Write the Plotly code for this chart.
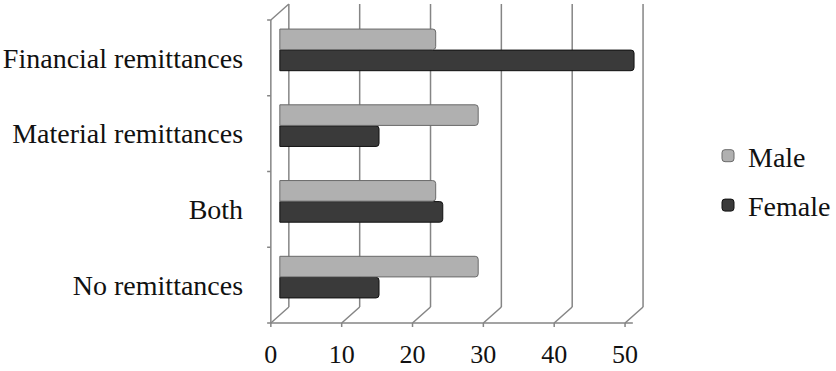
import plotly.graph_objects as go

categories = ["No remittances", "Both", "Material remittances", "Financial remittances"]
male = [28, 22, 28, 22]
female = [14, 23, 14, 50]
x_ticks = [0, 10, 20, 30, 40, 50]

W, H = 836, 371
FONT = "Liberation Serif, Times New Roman, serif"
GRID = "#858585"
FS = 28

# pixel geometry of the 3D frame (front face of the box)
fx0, fx1 = 277, 639       # front x axis extent (pixels)
fy_top, fy_bot = 20, 323  # front y axis extent (pixels from top)
DX, DY = 18, 16           # depth offset of the back wall (right, up)
P = 4                     # padding so frame lines are not clipped
PW = fx1 - fx0
PH = fy_bot - fy_top
n = len(categories)
s = PW / (x_ticks[-1] - x_ticks[0])   # pixels per value unit
u = PH / n                             # pixels per category

# one subplot covering the whole box; bars sit at mid depth
dom_x = [(fx0 - P) / W, (fx1 + DX + P) / W]
dom_y = [(H - fy_bot - P) / H, (H - fy_top + DY + P) / H]
x_range = [x_ticks[0] - (DX / 2 + P) / s, x_ticks[-1] + (DX / 2 + P) / s]
y_range = [-0.5 - (DY / 2 + P) / u, n - 0.5 + (DY / 2 + P) / u]

fig = go.Figure()
fig.add_trace(go.Bar(
    y=categories, x=female, name="Female", orientation="h",
    legendrank=2, legendgroup="female",
    marker=dict(color="#3a3a3a", line=dict(color="#111111", width=1)),
))
fig.add_trace(go.Bar(
    y=categories, x=male, name="Male", orientation="h",
    legendrank=1, legendgroup="male",
    marker=dict(color="#b0b0b0", line=dict(color="#6a6a6a", width=1)),
))

fig.update_layout(
    width=W, height=H,
    margin=dict(l=0, r=0, t=0, b=0),
    paper_bgcolor="white", plot_bgcolor="rgba(0,0,0,0)",
    font=dict(family=FONT, size=FS, color="#111111"),
    barmode="group", bargap=0.445, bargroupgap=0.02,
    barcornerradius=3,
    showlegend=True,
    legend=dict(x=724 / W, y=(H - 131) / H, xanchor="left", yanchor="top",
                traceorder="grouped", tracegroupgap=10, itemwidth=30,
                font=dict(family=FONT, size=FS, color="#111111"),
                bgcolor="rgba(0,0,0,0)"),
    xaxis=dict(domain=dom_x, range=x_range, tickvals=x_ticks,
               tickfont=dict(size=26),
               showgrid=False, zeroline=False, showline=False, ticks="",
               ticklabelshift=-DX // 2, ticklabelstandoff=P + 5, automargin=False),
    yaxis=dict(domain=dom_y, range=y_range, type="category",
               categoryorder="array", categoryarray=categories,
               showgrid=False, zeroline=False, showline=False, ticks="",
               ticklabelshift=DY // 2, ticklabelstandoff=23, automargin=False),
)

ls = dict(color=GRID, width=1.5)
lo, hi = -0.5, n - 0.5
shapes = []

def seg(xa, ya, x0, x1, y0, y1):
    return dict(type="line", xref="x", yref="y",
                xsizemode="pixel", xanchor=xa, x0=x0, x1=x1,
                ysizemode="pixel", yanchor=ya, y0=y0, y1=y1,
                line=ls, layer="below")

fx, fy = -DX / 2, -DY / 2   # front face offset from mid depth
bx, by = DX / 2, DY / 2     # back wall offset from mid depth
for v in x_ticks:
    shapes.append(seg(v, lo, fx, bx, fy, by))              # floor diagonal
    shapes.append(seg(v, lo, bx, bx, by, by + PH))         # back wall gridline
    shapes.append(seg(v, lo, fx, fx, fy, fy - 7))          # front tick mark
shapes.append(seg(x_ticks[0], lo, fx, fx + PW, fy, fy))    # front baseline
shapes.append(seg(x_ticks[0], lo, fx, fx, fy, fy + PH))    # front left axis
shapes.append(seg(x_ticks[0], hi, fx, bx, fy, by))         # top-left edge
for k in range(n + 1):
    shapes.append(seg(x_ticks[0], lo + k, fx - 9, fx, fy, fy))  # category boundary ticks
fig.update_layout(shapes=shapes)

fig.write_html(
    "out.html",
    config={"displayModeBar": False},
    post_script="document.documentElement.style.overflow='hidden';"
                "document.body.style.margin='0';document.body.style.overflow='hidden';",
)
